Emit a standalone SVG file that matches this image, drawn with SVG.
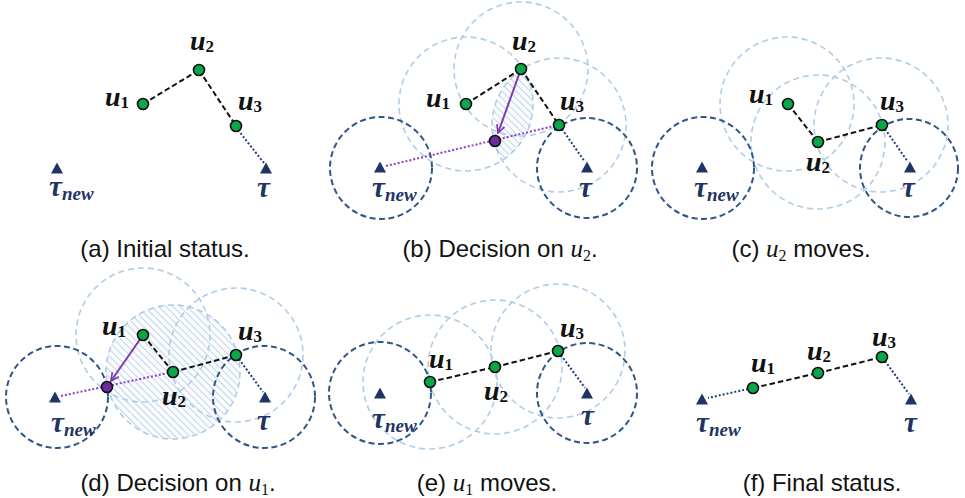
<svg xmlns="http://www.w3.org/2000/svg" width="965" height="498" viewBox="0 0 965 498">
<style>
.lc{fill:none;stroke:#aecde9;stroke-width:1.6;stroke-dasharray:6 4}
.dc{fill:none;stroke:#2f5687;stroke-width:2;stroke-dasharray:6 3.5}
.dash{fill:none;stroke:#111;stroke-width:2;stroke-dasharray:5.5 3}
.ndot{fill:none;stroke:#203f7a;stroke-width:2;stroke-dasharray:2 2}
.pdot{fill:none;stroke:#8a3fc0;stroke-width:2;stroke-dasharray:2 2}
.parr{fill:none;stroke:#7d3bb0;stroke-width:2}
.gn{fill:#0aa64a;stroke:#111;stroke-width:1.6}
.pn{fill:#6e2c9c;stroke:#111;stroke-width:1.6}
.tri{fill:#1f3464}
.lbl{font-family:"Liberation Serif","DejaVu Serif",serif;font-weight:bold;font-style:italic;font-size:28px;fill:#111}
.tl{font-family:"Liberation Serif","DejaVu Serif",serif;font-weight:bold;font-style:italic;font-size:29px;fill:#1f3464}
.sub{font-style:normal;font-size:17px}
.subn{font-size:19px}
.cap{font-family:"Liberation Sans",Arial,sans-serif;font-size:24px;fill:#111;text-anchor:middle}
.mu{font-family:"Liberation Serif","DejaVu Serif",serif;font-style:italic;font-size:25px}
.ms{font-family:"Liberation Serif","DejaVu Serif",serif;font-size:16px}
</style>
<defs>
<pattern id="hatch" patternUnits="userSpaceOnUse" width="5" height="5" patternTransform="rotate(-45)">
<rect width="5" height="5" fill="#fbfcfe"/>
<line x1="0" y1="0" x2="0" y2="5" stroke="#bcd0e8" stroke-width="1.8"/>
</pattern>
<marker id="arrP" viewBox="0 0 10 10" refX="9" refY="5" markerWidth="10" markerHeight="10" markerUnits="userSpaceOnUse" orient="auto">
<path d="M1,1 L9,5 L1,9" fill="none" stroke="#7d3bb0" stroke-width="1.6"/>
</marker>
<path id="tri" d="M0,-5.5 L6,5.5 L-6,5.5 Z"/>
<clipPath id="clipB"><circle cx="466" cy="104" r="67"/></clipPath>
</defs>

<!-- Panel (a) -->
<g id="panel-a">
<g id="a-connectors">
<line class="dash" x1="143" y1="104" x2="199" y2="70"/>
<line class="dash" x1="199" y1="70" x2="236" y2="126"/>
<line class="ndot" x1="238" y1="130" x2="264" y2="163"/>
</g>
<g id="a-tnew"><use href="#tri" class="tri" x="57" y="168"/><text class="tl" x="49" y="196">τ<tspan class="subn" dy="4">new</tspan></text></g>
<g id="a-t"><use href="#tri" class="tri" x="266" y="168"/><text class="tl" x="257" y="197">τ</text></g>
<g id="a-u1"><circle class="gn" cx="143" cy="104" r="5.5"/><text class="lbl" x="105" y="106">u<tspan class="sub" dy="2">1</tspan></text></g>
<g id="a-u2"><circle class="gn" cx="199" cy="70" r="5.5"/><text class="lbl" x="190" y="50">u<tspan class="sub" dy="2">2</tspan></text></g>
<g id="a-u3"><circle class="gn" cx="236" cy="126" r="5.5"/><text class="lbl" x="238" y="110">u<tspan class="sub" dy="2">3</tspan></text></g>
<text class="cap" x="165" y="257">(a) Initial status.</text>
</g>

<!-- Panel (b) -->
<g id="panel-b">
<g id="b-ranges">
<circle cx="559" cy="125" r="67" fill="url(#hatch)" clip-path="url(#clipB)"/>
<circle class="lc" cx="466" cy="104" r="67"/>
<circle class="lc" cx="521" cy="69" r="67"/>
<circle class="lc" cx="559" cy="125" r="67"/>
<circle class="dc" cx="381" cy="168" r="51"/>
<circle class="dc" cx="587" cy="168" r="50"/>
</g>
<g id="b-connectors">
<line class="dash" x1="466" y1="104" x2="521" y2="69"/>
<line class="dash" x1="521" y1="69" x2="559" y2="125"/>
<line class="ndot" x1="562" y1="129" x2="585" y2="162"/>
<line class="pdot" x1="386" y1="166" x2="554" y2="126"/>
<line class="parr" x1="519" y1="74.5" x2="498" y2="133" marker-end="url(#arrP)"/>
</g>
<g id="b-tnew"><use href="#tri" class="tri" x="380" y="167"/><text class="tl" x="372" y="197">τ<tspan class="subn" dy="4">new</tspan></text></g>
<g id="b-t"><use href="#tri" class="tri" x="587" y="167"/><text class="tl" x="579" y="197">τ</text></g>
<g id="b-u1"><circle class="gn" cx="466" cy="104" r="5.5"/><text class="lbl" x="426" y="107">u<tspan class="sub" dy="2">1</tspan></text></g>
<g id="b-u2"><circle class="gn" cx="521" cy="69" r="5.5"/><text class="lbl" x="512" y="50">u<tspan class="sub" dy="2">2</tspan></text></g>
<g id="b-u3"><circle class="gn" cx="559" cy="125" r="5.5"/><text class="lbl" x="560" y="110">u<tspan class="sub" dy="2">3</tspan></text></g>
<g id="b-target"><circle class="pn" cx="495" cy="141" r="5.5"/></g>
<text class="cap" x="500" y="257">(b) Decision on <tspan class="mu">u</tspan><tspan class="ms" dy="4">2</tspan><tspan dy="-4">.</tspan></text>
</g>

<!-- Panel (c) -->
<g id="panel-c">
<g id="c-ranges">
<circle class="lc" cx="787" cy="104" r="67"/>
<circle class="lc" cx="818" cy="142" r="67"/>
<circle class="lc" cx="881" cy="125" r="67"/>
<circle class="dc" cx="703" cy="168" r="51"/>
<circle class="dc" cx="909" cy="168" r="49"/>
</g>
<g id="c-connectors">
<line class="dash" x1="788" y1="104" x2="818" y2="142"/>
<line class="dash" x1="818" y1="142" x2="882" y2="125"/>
<line class="ndot" x1="885" y1="129" x2="908" y2="162"/>
</g>
<g id="c-tnew"><use href="#tri" class="tri" x="702" y="167"/><text class="tl" x="694" y="197">τ<tspan class="subn" dy="4">new</tspan></text></g>
<g id="c-t"><use href="#tri" class="tri" x="910" y="167"/><text class="tl" x="902" y="197">τ</text></g>
<g id="c-u1"><circle class="gn" cx="788" cy="104" r="5.5"/><text class="lbl" x="749" y="103">u<tspan class="sub" dy="2">1</tspan></text></g>
<g id="c-u2"><circle class="gn" cx="818" cy="142" r="5.5"/><text class="lbl" x="806" y="171">u<tspan class="sub" dy="2">2</tspan></text></g>
<g id="c-u3"><circle class="gn" cx="882" cy="125" r="5.5"/><text class="lbl" x="880" y="110">u<tspan class="sub" dy="2">3</tspan></text></g>
<text class="cap" x="801" y="257">(c) <tspan class="mu">u</tspan><tspan class="ms" dy="4">2</tspan><tspan dy="-4"> moves.</tspan></text>
</g>

<!-- Panel (d) -->
<g id="panel-d">
<g id="d-ranges">
<circle cx="173" cy="372" r="67" fill="url(#hatch)"/>
<circle class="lc" cx="143" cy="335" r="67"/>
<circle class="lc" cx="173" cy="372" r="67"/>
<circle class="lc" cx="236" cy="355" r="67"/>
<circle class="dc" cx="57" cy="397" r="51"/>
<circle class="dc" cx="264" cy="397" r="51"/>
</g>
<g id="d-connectors">
<line class="dash" x1="143" y1="335" x2="173" y2="372"/>
<line class="dash" x1="173" y1="372" x2="236" y2="355"/>
<line class="ndot" x1="239" y1="359" x2="263" y2="392"/>
<line class="pdot" x1="61" y1="396" x2="168" y2="373"/>
<line class="parr" x1="139.6" y1="340" x2="111" y2="381" marker-end="url(#arrP)"/>
</g>
<g id="d-tnew"><use href="#tri" class="tri" x="55" y="397"/><text class="tl" x="51" y="432">τ<tspan class="subn" dy="4">new</tspan></text></g>
<g id="d-t"><use href="#tri" class="tri" x="265" y="397"/><text class="tl" x="257" y="430">τ</text></g>
<g id="d-u1"><circle class="gn" cx="143" cy="335" r="5.5"/><text class="lbl" x="102" y="335">u<tspan class="sub" dy="2">1</tspan></text></g>
<g id="d-u2"><circle class="gn" cx="173" cy="372" r="5.5"/><text class="lbl" x="162" y="405">u<tspan class="sub" dy="2">2</tspan></text></g>
<g id="d-u3"><circle class="gn" cx="236" cy="355" r="5.5"/><text class="lbl" x="238" y="340">u<tspan class="sub" dy="2">3</tspan></text></g>
<g id="d-target"><circle class="pn" cx="107" cy="387" r="5.5"/></g>
<text class="cap" x="178" y="491">(d) Decision on <tspan class="mu">u</tspan><tspan class="ms" dy="4">1</tspan><tspan dy="-4">.</tspan></text>
</g>

<!-- Panel (e) -->
<g id="panel-e">
<g id="e-ranges">
<circle class="lc" cx="430" cy="382" r="67"/>
<circle class="lc" cx="495" cy="367" r="67"/>
<circle class="lc" cx="558" cy="351" r="67"/>
<circle class="dc" cx="380" cy="393" r="51"/>
<circle class="dc" cx="587" cy="393" r="50"/>
</g>
<g id="e-connectors">
<line class="dash" x1="430" y1="382" x2="495" y2="367"/>
<line class="dash" x1="495" y1="367" x2="558" y2="351"/>
<line class="ndot" x1="561" y1="355" x2="585" y2="388"/>
</g>
<g id="e-tnew"><use href="#tri" class="tri" x="380" y="393"/><text class="tl" x="372" y="428">τ<tspan class="subn" dy="4">new</tspan></text></g>
<g id="e-t"><use href="#tri" class="tri" x="587" y="393"/><text class="tl" x="581" y="425">τ</text></g>
<g id="e-u1"><circle class="gn" cx="430" cy="382" r="5.5"/><text class="lbl" x="429" y="368">u<tspan class="sub" dy="2">1</tspan></text></g>
<g id="e-u2"><circle class="gn" cx="495" cy="367" r="5.5"/><text class="lbl" x="484" y="400">u<tspan class="sub" dy="2">2</tspan></text></g>
<g id="e-u3"><circle class="gn" cx="558" cy="351" r="5.5"/><text class="lbl" x="560" y="337">u<tspan class="sub" dy="2">3</tspan></text></g>
<text class="cap" x="487" y="491">(e) <tspan class="mu">u</tspan><tspan class="ms" dy="4">1</tspan><tspan dy="-4"> moves.</tspan></text>
</g>

<!-- Panel (f) -->
<g id="panel-f">
<g id="f-connectors">
<line class="ndot" x1="748" y1="389" x2="708" y2="398"/>
<line class="dash" x1="753" y1="388" x2="818" y2="373"/>
<line class="dash" x1="818" y1="373" x2="882" y2="357"/>
<line class="ndot" x1="885" y1="361" x2="909" y2="394"/>
</g>
<g id="f-tnew"><use href="#tri" class="tri" x="702" y="399"/><text class="tl" x="696" y="432">τ<tspan class="subn" dy="4">new</tspan></text></g>
<g id="f-t"><use href="#tri" class="tri" x="911" y="399"/><text class="tl" x="904" y="432">τ</text></g>
<g id="f-u1"><circle class="gn" cx="753" cy="388" r="5.5"/><text class="lbl" x="751" y="372">u<tspan class="sub" dy="2">1</tspan></text></g>
<g id="f-u2"><circle class="gn" cx="818" cy="373" r="5.5"/><text class="lbl" x="807" y="360">u<tspan class="sub" dy="2">2</tspan></text></g>
<g id="f-u3"><circle class="gn" cx="882" cy="357" r="5.5"/><text class="lbl" x="872" y="346">u<tspan class="sub" dy="2">3</tspan></text></g>
<text class="cap" x="822" y="491">(f) Final status.</text>
</g>
</svg>
